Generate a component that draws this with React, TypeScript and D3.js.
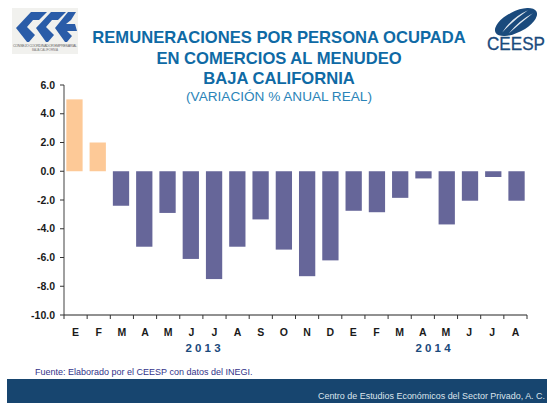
import React, { useEffect } from "react";
import * as d3 from "d3";

const months = ["E","F","M","A","M","J","J","A","S","O","N","D","E","F","M","A","M","J","J","A"];
const values = [5.0,2.0,-2.4,-5.25,-2.9,-6.1,-7.5,-5.25,-3.35,-5.45,-7.3,-6.2,-2.75,-2.85,-1.85,-0.5,-3.7,-2.05,-0.4,-2.05];
const yTicks = [6,4,2,0,-2,-4,-6,-8,-10];
const titleLines = ["REMUNERACIONES POR PERSONA OCUPADA","EN COMERCIOS AL MENUDEO","BAJA CALIFORNIA"];
const subtitle = "(VARIACIÓN % ANUAL REAL)";
const years = [{ label: "2 0 1 3", from: 0, to: 11 }, { label: "2 0 1 4", from: 12, to: 19 }];
const source = "Fuente: Elaborado por el CEESP con datos del INEGI.";
const footer = "Centro de Estudios Económicos del Sector Privado, A. C.";

const font = "'Liberation Sans', Arial, sans-serif";
const x = d3.scaleBand<number>().domain(d3.range(months.length)).range([64, 527]).paddingInner(0.3).paddingOuter(0.1);
const y = d3.scaleLinear().domain([-10, 6]).range([315, 85]);
const step = 463 / months.length;
const edge = (i: number) => 64 + i * step;

export default function App() {
  useEffect(() => { document.body.style.margin = "0"; }, []);
  return (
    <svg width={547} height={403} style={{ display: "block", fontFamily: font }}>
      <rect width={547} height={403} fill="#fff" />
      {/* left logo */}
      <rect x={12} y={8} width={66} height={46} fill="#f1f1ee" />
      <g fill="#2a5ca8">
        <path d="M16 28 L31 12 L47 12 L39 20 L33 20 L27 27 L35 35 L29 42 L27 42 Z" />
        <path d="M36 28 L51 12 L66 12 L58 20 L52 20 L46 27 L54 35 L48 42 L46 42 Z" />
        <path d="M55 28 L68 12 L76 12 L71 20 L66 24 L75 24 L77 31 L67 31 L72 36 L67 42 L65 42 Z" />
      </g>
      <text x={45} y={46.5} fontSize={3.6} textAnchor="middle" fill="#666" textLength={64}>CONSEJO COORDINADOR EMPRESARIAL</text>
      <text x={45} y={50.5} fontSize={3} textAnchor="middle" fill="#777">BAJA CALIFORNIA</text>
      {/* right logo */}
      <g transform="translate(516 22) rotate(-27)">
        <ellipse rx={23} ry={10.5} fill="#1a4a7c" />
        <path d="M-17 3 Q-2 -6 16 -5 Q0 -3 -17 3 Z" fill="#e2e9f0" />
        <path d="M-12 7 Q4 0 19 0 Q4 3 -12 7 Z" fill="#e2e9f0" />
      </g>
      <text x={516} y={50} fontSize={18} textAnchor="middle" fill="#1a4a7c" stroke="#1a4a7c" strokeWidth={0.3} textLength={58} lengthAdjust="spacingAndGlyphs">CEESP</text>
      {/* titles */}
      {titleLines.map((t, i) => (
        <text key={i} x={279} y={43 + i * 20.5} fontSize={16.6} fontWeight={700} fill="#0f6aa5" textAnchor="middle">{t}</text>
      ))}
      <text x={279} y={100.5} fontSize={13.6} fill="#2b84b8" textAnchor="middle">{subtitle}</text>
      {/* bars */}
      {values.map((v, i) => (
        <rect key={i} x={x(i)} width={x.bandwidth()} y={Math.min(y(v), y(0))} height={Math.abs(y(v) - y(0))} fill={v >= 0 ? "#fdc997" : "#666699"} />
      ))}
      {/* y axis */}
      <line x1={64} x2={64} y1={y(6)} y2={y(-10)} stroke="#808080" strokeWidth={1.5} />
      {yTicks.map((t) => (
        <g key={t}>
          <line x1={60} x2={64} y1={y(t)} y2={y(t)} stroke="#333" strokeWidth={1} />
          <text x={55} y={y(t) + 3.7} fontSize={10.5} fontWeight={700} textAnchor="end" fill="#1a1a1a">{d3.format(".1f")(t).replace("−", "-")}</text>
        </g>
      ))}
      {/* x axis */}
      <line x1={64} x2={527} y1={y(-10)} y2={y(-10)} stroke="#222" strokeWidth={1} />
      {d3.range(months.length + 1).map((i) => (
        <line key={i} x1={edge(i)} x2={edge(i)} y1={y(-10)} y2={y(-10) + 4} stroke="#333" strokeWidth={1} />
      ))}
      {months.map((m, i) => (
        <text key={i} x={64 + step * (i + 0.5)} y={336} fontSize={10.5} fontWeight={700} textAnchor="middle" fill="#1a1a1a">{m}</text>
      ))}
      {years.map((yr) => (
        <text key={yr.label} x={yr.from === 0 ? 203 : 433} y={352} fontSize={11.5} fontWeight={700} textAnchor="middle" fill="#1a4a7c">{yr.label}</text>
      ))}
      <text x={35} y={375} fontSize={9} fill="#33338a">{source}</text>
      <rect x={7} y={379} width={540} height={24} fill="#17456f" />
      <text x={545} y={399} fontSize={8.95} fill="#dce4ec" textAnchor="end">{footer}</text>
    </svg>
  );
}
